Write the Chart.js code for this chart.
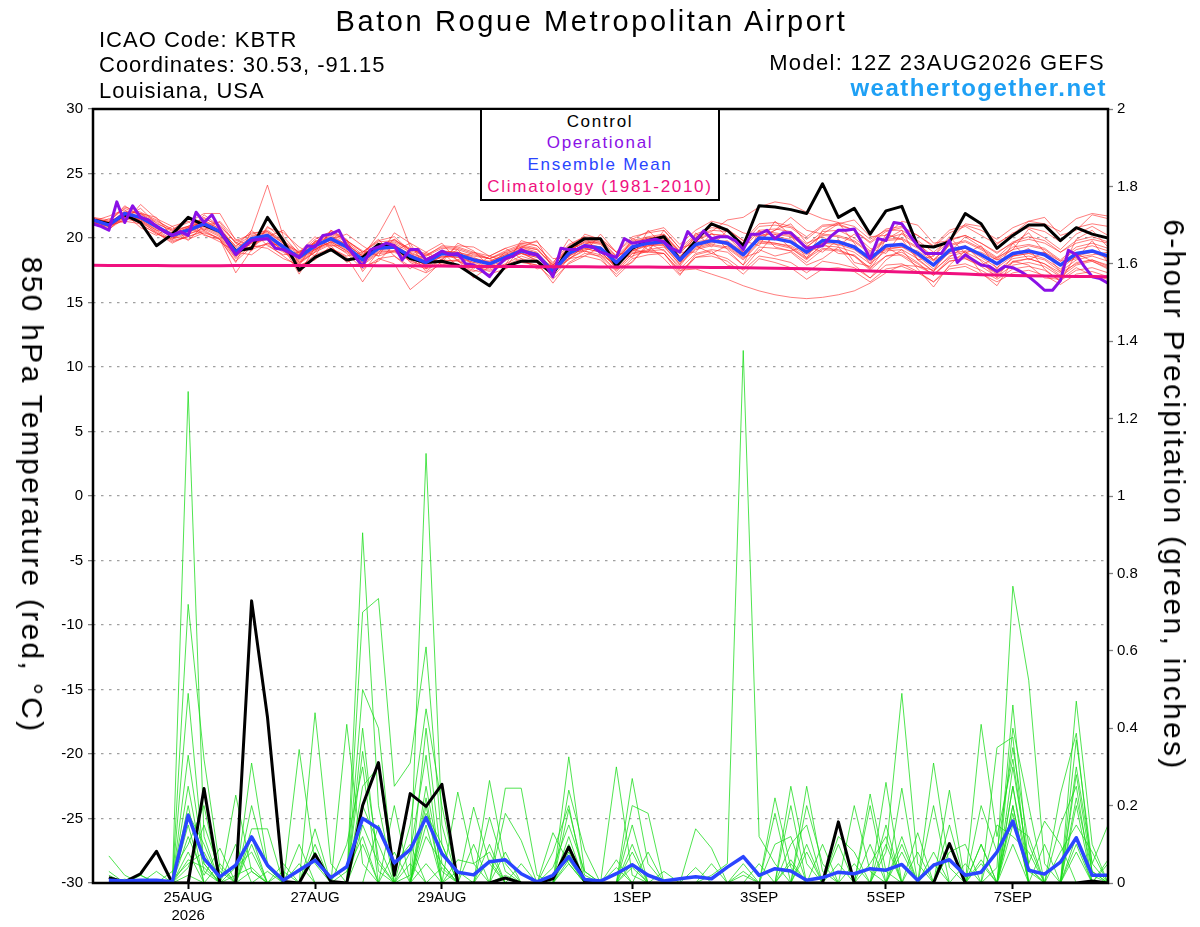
<!DOCTYPE html>
<html>
<head>
<meta charset="utf-8">
<title>KBTR GEFS meteogram</title>
<script src="https://cdn.jsdelivr.net/npm/chart.js@4.4.1/dist/chart.umd.min.js"></script>
<style>
  html, body { margin: 0; padding: 0; background: #fff; }
  #wrap { position: relative; width: 1200px; height: 927px; font-family: "Liberation Sans", Arial, sans-serif; color: #000; }
  #wrap canvas { position: absolute; left: 0; top: 0; }
  .txt { position: absolute; white-space: nowrap; }
  #title { left: 0; width: 1183px; top: 7px; text-align: center; font-size: 29px; line-height: 29px; letter-spacing: 2.6px; }
  .info { font-size: 22px; line-height: 22px; letter-spacing: 1px; }
  #site { right: 93px; top: 76px; font-size: 24px; line-height: 24px; font-weight: bold; letter-spacing: 1.5px; color: #1ea0f5; }
  #legendBox { position: absolute; left: 480px; top: 108px; width: 236px; height: 88px; border: 2px solid #000; background: #fff;
               text-align: center; font-size: 17px; line-height: 21.7px; letter-spacing: 1.7px; padding-top: 0.5px; }
  .ytitle { position: absolute; white-space: nowrap; font-size: 30px; line-height: 30px; letter-spacing: 2.3px;
            transform: translate(-50%, -50%) rotate(90deg); }
</style>
</head>
<body>
<div id="wrap">
  <canvas id="meteogram" width="1200" height="927"></canvas>
  <div class="txt" id="title">Baton Rogue Metropolitan Airport</div>
  <div class="txt info" style="left:99px; top:29px;">ICAO Code: KBTR</div>
  <div class="txt info" style="left:99px; top:54px;">Coordinates: 30.53, -91.15</div>
  <div class="txt info" style="left:99px; top:80px;">Louisiana, USA</div>
  <div class="txt info" style="right:95px; top:52px; letter-spacing:1.3px;">Model: 12Z 23AUG2026 GEFS</div>
  <div class="txt" id="site">weathertogether.net</div>
  <div id="legendBox">
    <div style="color:#000">Control</div>
    <div style="color:#8a10e6">Operational</div>
    <div style="color:#2a45ff">Ensemble Mean</div>
    <div style="color:#f0107f">Climatology (1981-2010)</div>
  </div>
  <div class="ytitle" style="left:32px; top:495px;">850 hPa Temperature (red, °C)</div>
  <div class="ytitle" style="left:1174px; top:495px;">6-hour Precipitation (green, inches)</div>
</div>

<script>
// forecast runs 12Z 23AUG2026 -> 12Z 08SEP2026, ensemble every 6 h, operational every 3 h
var dateTicks = [36, 84, 132, 204, 252, 300, 348];
var dateLabels = [['25AUG', '2026'], '27AUG', '29AUG', '1SEP', '3SEP', '5SEP', '7SEP'];
var tempTicks = [30, 25, 20, 15, 10, 5, 0, -5, -10, -15, -20, -25, -30];

// 850 hPa temperature (C)
var controlTemp = [21.4,21.1,21.8,21.2,19.4,20.3,21.6,21.0,20.5,19.0, 19.2,21.6,19.8,17.5,18.5,19.1,18.3,18.5,19.5,19.3,
  18.4,18.1,18.2,17.9,17.1,16.3,17.8,18.2,18.2,17.2, 19.2,19.95,19.95,17.8,19.2,19.8,20.1,18.3,19.8,21.1,
  20.6,19.4,22.5,22.4,22.2,21.9,24.2,21.6,22.3,20.3, 22.1,22.45,19.4,19.3,19.7,21.9,21.1,19.2,20.2,21.0, 21.0,19.8,20.8,20.3,20.0];
var meanTemp = [21.4,21.0,21.9,21.6,20.9,20.2,20.6,21.1,20.5,18.9, 19.95,20.2,19.3,18.5,19.4,19.95,19.3,18.3,19.2,19.3,
  18.6,18.1,18.8,18.7,18.3,18.0,18.5,19.0,18.7,17.4, 18.8,19.4,19.2,18.1,19.3,19.6,19.7,18.3,19.5,19.8,
  19.6,18.7,20.0,19.95,19.7,18.9,19.8,19.7,19.3,18.4, 19.4,19.5,18.8,17.9,19.05,19.3,18.7,18.0,18.8,19.0, 18.7,17.9,18.8,19.0,18.6];
var climTemp = [17.88,17.87,17.87,17.86,17.86,17.85,17.85,17.85,17.85,17.86, 17.86,17.86,17.87,17.87,17.87,17.87,17.86,17.86,17.85,17.85,
  17.84,17.83,17.82,17.81,17.8,17.8,17.79,17.79,17.78,17.78, 17.77,17.77,17.76,17.76,17.75,17.75,17.74,17.74,17.73,17.72,
  17.71,17.7,17.68,17.66,17.64,17.61,17.58,17.54,17.5,17.45, 17.4,17.36,17.32,17.28,17.24,17.2,17.16,17.13,17.1,17.08, 17.06,17.04,17.02,17.01,17.0];
// operational run, 3-hourly
var operTemp = [21.1,20.9,20.6,22.8,21.2,22.5,21.6,21.4,20.9,20.5, 20.2,20.5,20.2,22.0,21.2,21.8,20.7,19.6,18.7,19.3,
  19.8,19.9,19.95,19.2,19.1,18.8,18.5,19.4,19.3,20.2, 20.3,20.6,19.4,18.6,17.8,19.1,19.3,19.6,19.4,18.3,
  19.1,19.1,18.3,18.6,19.0,18.7,18.8,18.0,17.9,17.5, 17.0,17.8,18.4,18.6,19.1,18.8,18.7,18.0,17.0,19.2,
  19.1,19.1,19.4,19.3,18.9,18.7,18.5,19.95,19.6,19.7, 19.8,19.9,19.7,19.2,18.9,20.5,19.8,20.55,19.95,20.1,
  20.1,19.8,19.1,20.3,20.3,20.6,19.95,20.4,20.4,19.8, 19.2,19.3,19.4,20.1,20.6,20.6,20.7,19.6,18.4,19.95,
  19.8,21.2,21.1,20.2,19.4,18.8,18.8,18.8,19.8,18.1, 18.7,18.3,17.9,17.8,17.4,17.8,17.7,17.4,17.0,16.5,
  15.95,15.95,16.7,19.05,18.7,17.8,17.0,16.85,16.5];

// ensemble members (temperature)
var memT01 = [21.5,21.3,22.3,21.8,21.2,20.5,20.9,21.6,20.8,19.3,20.6,24.1,20.1,18.8,19.9,20.5,19.8,18.9,19.8,20.1,19.0,18.6,19.4,19.3,18.9,18.6,19.2,19.6,19.4,18.1,19.5,20.1,20.0,18.9,20.1,20.4,20.6,19.2,20.3,20.8,20.7,19.8,21.1,21.2,20.9,20.1,21.0,21.1,20.6,19.7,20.7,20.9,20.2,19.3,20.4,20.9,20.2,19.5,20.4,20.8,20.5,19.7,20.8,21.1,20.9];
var memT02 = [21.2,20.7,21.5,21.2,20.5,19.8,20.1,20.5,19.9,18.2,19.3,19.5,18.6,17.7,18.7,19.2,18.5,16.6,18.4,18.6,17.8,17.3,18.0,17.9,17.5,17.2,17.6,18.2,17.9,16.8,18.0,18.6,18.3,17.2,18.4,18.7,18.8,17.2,18.5,18.8,18.4,17.5,18.6,18.4,18.1,17.3,18.2,18.0,17.7,16.9,17.9,18.0,17.4,16.6,17.6,17.8,17.2,16.6,17.3,17.5,17.1,16.4,17.2,17.4,17.0];
var memT03 = [21.3,21.1,21.7,21.4,20.7,20.3,20.8,21.4,20.7,19.0,19.6,20.0,19.0,18.2,19.1,19.7,19.0,18.1,19.0,19.0,18.2,17.8,18.6,18.5,18.0,17.6,18.3,18.8,18.3,17.2,18.6,19.2,18.9,17.8,18.9,19.0,18.8,17.5,17.6,17.2,16.8,16.3,15.9,15.6,15.4,15.3,15.4,15.6,15.9,16.5,17.3,17.9,17.8,17.2,18.2,18.5,18.0,17.3,18.1,18.4,18.0,17.3,18.0,18.3,17.9];
var memT04 = [21.6,21.2,22.0,21.9,21.0,20.0,20.4,21.0,20.6,19.4,20.2,20.4,19.6,18.9,19.6,20.1,19.5,18.6,20.3,22.5,19.3,18.4,19.0,18.9,18.6,18.4,18.8,19.3,19.1,17.9,19.1,19.7,19.6,18.4,19.6,20.0,20.1,18.8,20.1,20.5,21.4,21.6,22.4,22.8,22.6,22.0,21.5,21.2,20.9,19.9,20.6,20.6,19.8,18.9,19.9,20.2,19.6,18.9,19.6,19.9,19.6,18.9,19.6,19.9,19.6];
var memT05 = [21.3,20.9,21.8,21.5,20.8,20.2,20.5,20.9,20.3,18.6,19.6,19.9,19.0,18.1,19.0,19.6,18.8,17.6,18.4,18.0,16.0,17.0,18.2,18.3,17.8,17.5,18.0,18.6,18.2,17.0,18.4,19.0,18.7,17.5,18.8,19.1,19.3,18.0,19.1,19.4,19.2,18.3,19.6,19.5,19.2,18.4,19.2,19.1,18.6,17.7,18.6,18.7,18.0,17.1,18.2,18.4,17.8,17.0,17.9,18.1,17.8,17.0,17.9,18.2,17.7];
var memT06 = [21.5,21.1,22.1,21.9,21.3,20.7,21.2,21.9,21.9,19.8,20.3,20.6,19.8,18.9,19.7,20.3,19.7,18.7,19.5,19.6,18.9,18.4,19.0,18.8,18.4,18.2,18.7,19.3,18.9,17.6,19.0,19.7,19.5,18.4,19.6,19.9,20.0,18.6,19.8,20.3,20.2,19.4,20.6,20.7,20.5,19.5,20.5,20.6,20.0,19.0,20.0,20.3,19.5,18.6,19.8,20.2,19.6,18.8,19.7,20.1,19.8,18.9,19.8,20.1,19.7];
var memT07 = [21.2,20.8,21.6,21.3,20.4,19.7,20.1,20.6,19.9,17.3,19.1,19.6,18.9,18.0,18.9,19.5,18.9,17.9,18.8,18.9,18.3,17.7,18.3,18.2,17.8,17.4,17.9,18.4,18.1,16.5,18.1,18.8,18.6,17.4,18.6,19.0,19.1,17.6,18.8,19.1,18.9,17.9,19.3,19.2,19.0,18.1,19.1,19.0,18.6,17.5,18.6,18.9,18.1,17.1,18.4,18.6,18.0,17.2,18.2,18.4,18.0,17.1,18.1,18.3,17.8];
var memT08 = [21.4,21.0,21.9,21.5,20.8,20.3,20.8,21.3,20.7,19.2,20.1,20.5,19.6,18.7,19.6,20.2,19.5,18.6,19.5,19.7,19.1,18.7,19.3,19.2,18.8,18.4,19.0,19.5,19.2,17.8,19.3,19.9,19.7,18.6,19.8,20.1,20.3,19.0,20.2,20.6,20.5,19.6,20.9,21.0,20.8,19.9,20.9,21.0,20.6,19.6,20.5,20.8,20.2,19.4,20.6,21.0,20.6,19.9,20.8,21.3,21.1,20.5,21.5,21.9,21.7];
var memT09 = [21.3,20.9,21.7,21.4,20.6,19.9,20.3,20.8,20.2,18.7,19.7,19.9,19.1,18.3,19.2,19.7,19.0,18.0,18.9,19.0,18.4,17.9,18.6,18.5,18.1,17.8,18.3,18.8,18.5,17.3,18.6,19.2,18.9,17.8,19.0,19.4,19.5,18.1,19.2,19.5,19.3,18.4,19.7,19.6,19.3,18.5,19.4,19.3,18.9,18.0,19.0,19.1,18.4,17.4,18.6,18.9,18.3,17.5,18.4,18.6,18.3,17.4,18.3,18.6,18.2];
var memT10 = [21.4,21.2,22.5,21.7,20.8,20.0,20.7,21.3,20.4,18.6,20.0,20.3,19.3,17.2,19.3,20.0,19.4,18.2,19.4,19.5,18.7,18.3,18.9,18.3,16.9,17.8,18.6,19.2,18.8,17.5,19.1,19.6,19.3,18.2,19.4,19.8,19.9,18.5,19.7,19.9,19.7,18.8,20.2,20.3,20.1,19.3,20.3,20.2,19.8,18.9,19.9,20.0,19.3,18.3,19.5,19.8,19.2,18.4,19.3,19.5,19.2,18.3,19.3,19.6,19.2];
var memT11 = [21.5,21.0,21.8,21.6,20.9,20.1,20.6,21.0,20.5,18.9,19.9,20.1,19.4,18.6,19.4,19.9,19.3,18.4,19.3,19.4,18.7,18.2,18.9,18.8,18.4,18.1,18.6,19.1,18.8,17.6,18.9,19.4,19.0,17.6,18.8,18.9,18.8,17.4,18.5,18.6,18.2,17.2,18.4,18.1,17.7,16.8,17.6,17.7,17.4,16.6,17.6,17.8,17.3,16.6,17.8,18.0,17.5,16.8,17.6,17.8,17.5,16.7,17.5,17.7,17.3];
var memT12 = [21.6,21.4,22.4,22.0,21.4,20.6,20.9,21.5,21.0,19.6,20.4,20.5,19.7,18.8,19.7,20.4,19.8,18.9,19.7,19.8,19.2,18.6,19.2,19.1,18.7,18.4,18.9,19.4,19.1,17.9,19.2,19.8,19.6,18.5,19.7,20.0,20.2,18.9,20.0,20.3,20.1,19.2,20.5,20.4,20.2,19.3,20.2,20.1,19.7,18.8,19.8,19.9,19.2,18.3,19.4,19.7,19.1,18.3,19.1,19.4,19.1,18.2,19.1,19.4,19.0];
var memT13 = [21.2,20.9,21.6,21.5,20.9,20.4,20.3,20.7,20.1,18.5,19.8,20.0,19.5,18.4,19.1,19.7,19.6,18.5,19.1,19.2,18.8,18.4,18.5,18.6,18.1,18.2,18.7,18.8,18.5,17.8,18.4,19.1,19.3,18.3,19.0,19.5,19.4,18.4,19.3,19.6,19.8,18.9,19.8,19.6,19.4,18.7,19.6,19.8,19.4,18.5,19.1,19.3,19.0,18.2,18.8,19.0,18.9,18.3,18.6,18.8,18.9,18.2,18.5,18.7,18.9];
var memT14 = [21.4,21.1,22.0,21.3,20.6,20.4,20.9,21.2,20.6,19.1,19.7,20.0,19.2,18.7,19.5,19.8,19.1,18.1,19.2,19.5,18.5,17.9,18.9,18.9,18.5,18.0,18.4,19.1,18.8,17.3,18.7,19.3,19.1,17.9,19.2,19.4,19.6,18.2,19.4,19.7,19.5,18.6,19.9,20.1,19.9,18.8,19.6,19.5,19.1,18.2,19.2,19.3,18.6,17.6,18.9,19.2,18.5,17.7,18.6,18.8,18.4,17.6,18.6,18.9,18.4];
var memT15 = [21.0,21.5,21.2,22.6,21.5,20.9,19.8,21.0,21.2,19.6,19.0,20.8,20.4,19.3,18.6,20.6,19.8,19.0,18.6,20.4,19.6,17.6,18.1,19.6,19.0,17.8,17.9,19.8,19.4,18.0,19.9,18.9,20.3,18.9,18.5,20.6,19.4,17.9,20.4,19.3,20.6,19.8,19.4,21.3,20.2,18.4,20.6,21.2,19.6,18.0,20.3,19.9,18.3,18.6,20.1,18.8,19.4,17.6,19.6,20.4,18.9,17.4,19.9,20.6,19.3];
var memT16 = [21.6,20.6,21.9,20.8,20.2,20.9,21.3,20.2,19.9,18.1,20.6,19.4,18.7,18.9,20.1,19.2,18.6,18.9,19.9,18.6,17.6,18.9,19.6,18.2,17.6,18.6,19.2,18.4,17.6,17.9,19.4,20.1,18.7,17.9,20.0,19.1,20.3,18.9,18.9,20.4,19.1,17.9,20.6,19.3,19.0,19.4,18.9,19.9,18.1,17.8,19.9,20.6,18.3,17.4,19.6,18.4,17.9,18.5,19.6,18.3,18.9,18.0,18.4,19.8,18.1];
var memT17 = [21.3,21.7,22.2,21.0,20.4,19.6,20.2,21.8,20.9,19.7,19.1,20.9,19.9,18.1,18.9,20.6,19.9,17.4,18.9,19.9,19.1,18.8,17.9,18.3,18.9,18.4,17.7,19.3,19.8,17.6,18.3,19.5,19.9,18.6,19.1,18.9,20.6,19.2,19.6,21.2,20.1,18.9,19.9,20.6,21.1,19.6,20.1,19.4,20.3,19.2,18.8,20.4,19.7,18.3,18.9,20.1,19.3,18.5,19.1,20.7,20.0,19.1,20.3,20.9,20.2];
var memT18 = [21.5,20.9,21.4,21.9,21.6,20.1,19.9,20.4,20.0,18.4,19.4,19.2,18.4,17.9,19.8,19.4,18.1,18.8,19.4,19.9,18.9,17.4,18.4,19.1,17.8,17.1,18.5,18.9,18.2,17.1,18.9,19.0,18.5,17.0,18.2,19.4,18.4,17.1,18.7,19.0,17.9,17.6,19.1,18.6,18.9,17.9,18.4,19.3,17.9,16.9,18.3,19.1,17.6,16.2,17.9,19.0,17.3,16.3,18.2,17.9,16.9,16.8,17.7,17.1,16.8];
var memT19 = [21.4,21.3,21.6,22.3,21.1,20.6,21.6,20.6,21.3,19.9,19.3,20.1,20.6,19.0,19.1,19.9,20.3,19.4,18.6,19.0,19.6,18.9,18.3,19.4,19.3,18.6,18.2,19.6,19.7,18.4,18.5,20.3,19.9,18.9,19.9,20.5,20.8,19.5,20.6,21.3,21.0,20.4,20.1,20.6,21.6,20.6,20.3,21.1,21.4,20.1,20.2,21.3,21.0,19.6,19.8,21.1,20.9,19.6,20.3,21.3,21.6,20.2,20.6,21.8,21.5];
var memT20 = [21.2,21.0,21.3,21.1,20.3,19.9,20.8,20.3,19.7,18.9,18.7,19.6,19.4,17.9,18.3,19.4,19.4,17.8,18.2,19.5,18.1,17.6,18.9,17.8,17.4,17.9,18.9,18.1,17.9,17.3,18.4,18.6,19.3,17.6,18.1,19.6,19.0,17.8,19.4,18.8,19.4,18.5,18.9,20.3,19.2,18.3,19.6,18.8,18.7,17.6,19.3,18.6,17.8,17.5,18.5,19.4,18.2,16.9,18.6,19.2,17.6,16.6,18.8,18.2,17.6];

// 6-hour precipitation (inches), first value is the analysis time (none)
var controlPrecip = [null,0.014,0.003,0.024,0.082,0,0,0.244,0,0, 0.729,0.429,0.004,0,0.074,0.004,0,0.2,0.311,0.02,
  0.231,0.198,0.255,0,0,0,0.013,0,0,0.011, 0.093,0.005,0,0,0,0,0,0,0,0,
  0,0,0,0,0,0,0,0.158,0,0, 0,0,0,0,0.102,0,0,0,0,0, 0,0,0,0.005,0];
var meanPrecip = [null,0.007,0.005,0.007,0.007,0.003,0.175,0.063,0.016,0.046, 0.119,0.046,0.007,0.033,0.059,0.014,0.042,0.167,0.141,0.052,
  0.086,0.169,0.076,0.028,0.021,0.055,0.060,0.024,0.003,0.020, 0.068,0.009,0.005,0.024,0.047,0.020,0.005,0.011,0.016,0.011,
  0.041,0.068,0.020,0.037,0.031,0.007,0.014,0.028,0.024,0.037, 0.033,0.048,0.007,0.046,0.060,0.020,0.028,0.080,0.160,0.033, 0.023,0.054,0.117,0.020,0.020];

var memP01 = [null,0.02,0,0,0,0,1.27,0.12,0,0, 0.03,0,0,0,0,0,0,0.34,0.06,0, 0,0.40,0.05,0,0,0,0,0,0,0, 0.19,0.02,0,0,0,0,0,0,0,0, 0,0,0,0,0,0.25,0.03,0,0,0, 0,0,0,0.31,0.04,0,0,0,0.25,0.03, 0,0,0,0,0];
var memP02 = [null,0,0,0.02,0,0,0.72,0.32,0.04,0, 0.2,0.04,0,0,0,0,0,0,0,0, 0,0.05,0,0,0,0.17,0.03,0,0,0, 0,0,0,0,0.05,0,0,0,0,0, 0,0,0,0.22,0.04,0,0,0,0,0, 0,0,0,0,0,0,0.41,0.12,0.32,0.04, 0,0,0,0,0];
var memP03 = [null,0,0,0,0,0,0.49,0.05,0,0.227, 0.03,0,0,0,0,0,0,0.905,0.2,0, 0,0,0.04,0,0,0,0,0,0,0, 0.326,0.03,0,0,0,0,0,0,0,0, 0,0,0,0,0.25,0.05,0,0,0,0, 0.08,0.49,0.05,0,0,0,0,0,0.1,0, 0,0,0.22,0.03,0];
var memP04 = [null,0,0,0,0,0,0.33,0.05,0,0, 0,0,0,0,0.44,0.05,0,0,0,0, 0.02,1.11,0.15,0,0,0.265,0.05,0,0,0, 0,0,0,0.3,0.02,0,0,0,0,0, 0,0.03,0,0,0,0,0,0,0.2,0.03, 0,0,0,0,0,0,0,0.04,0.767,0.524, 0.05,0,0.1,0,0];
var memP05 = [null,0.07,0.02,0,0,0,0.25,0.03,0,0, 0.31,0.05,0,0,0,0,0,0.7,0.735,0.25, 0.31,0.61,0.1,0,0,0,0.245,0.245,0.02,0, 0,0,0,0,0.27,0.05,0,0,0,0, 0,0,0,0,0,0,0,0,0,0.23, 0.03,0,0,0,0.24,0,0,0,0.46,0.04, 0,0,0.47,0.1,0];
var memP06 = [null,0,0,0,0.03,0,0.18,0.1,0,0, 0,0,0,0.345,0.05,0,0,0.4,0.03,0, 0,0.2,0,0,0.196,0.05,0,0,0,0, 0.24,0.085,0,0,0,0,0,0,0,0.02, 0.05,1.376,0.12,0.05,0,0,0,0,0,0, 0,0.245,0,0,0,0,0,0.35,0.377,0, 0,0.23,0.387,0.02,0];
var memP07 = [null,0,0,0,0,0,0.12,0.02,0.09,0, 0,0,0,0,0,0,0.41,0.05,0,0, 0.08,0.33,0,0.235,0.05,0,0,0,0,0.13, 0.05,0,0,0,0.2,0.18,0,0,0,0, 0,0,0,0,0,0.2,0.05,0,0,0, 0.26,0,0,0,0,0,0.1,0,0.2,0, 0,0,0.37,0.05,0.15];
var memP08 = [null,0,0,0.02,0,0,0.08,0,0,0, 0.14,0.14,0,0,0.14,0,0,0.1,0,0.2, 0,0.15,0,0,0,0,0.18,0.11,0,0, 0,0,0,0,0,0,0,0,0.14,0.09, 0,0,0,0,0.2,0,0,0,0,0.2, 0,0,0,0.08,0,0,0,0,0.3,0.05, 0.16,0.1,0,0,0];
var memP09 = [null,0,0,0,0,0.01,0.05,0.08,0,0.04, 0.08,0,0,0.05,0,0,0,0.2,0.1,0, 0,0.12,0.05,0,0,0,0,0,0,0, 0.1,0,0,0.04,0,0,0,0,0,0, 0,0,0,0.18,0,0,0,0.12,0.08,0, 0,0,0.13,0,0,0,0.05,0,0.15,0.12, 0,0,0.2,0,0.06];
var memP10 = [null,0,0,0,0,0,0.04,0.15,0.03,0, 0,0,0.03,0,0.08,0,0,0,0.15,0.05, 0.1,0,0,0.06,0.05,0.08,0,0,0,0, 0.06,0,0,0,0.04,0,0,0,0,0, 0,0,0.05,0,0,0.08,0,0.05,0,0, 0,0.1,0,0,0.08,0.1,0,0,0.25,0, 0,0.08,0.15,0.08,0];
var memP11 = [null,0,0.01,0,0,0,0.02,0,0,0, 0,0.03,0,0,0,0,0,0.15,0.05,0, 0,0.25,0.03,0,0,0,0,0,0,0.04, 0.15,0.03,0,0,0,0,0.03,0,0,0, 0,0,0,0,0.06,0,0,0,0,0.05, 0.12,0,0,0.05,0,0,0,0.15,0.12,0.08, 0,0,0.08,0,0];
var memP12 = [null,0,0,0,0,0,0.15,0,0,0.02, 0.04,0,0,0,0,0,0.03,0.12,0,0, 0.05,0,0,0.03,0,0,0.02,0,0,0, 0.08,0,0,0,0.08,0,0,0,0.04,0, 0,0.02,0,0,0,0.1,0,0,0.05,0, 0,0.08,0,0,0,0,0.06,0,0.18,0, 0.1,0,0.28,0.03,0];
var memP13 = [null,0,0,0,0,0.03,0.1,0.2,0,0.1, 0,0,0,0,0.1,0,0,0.25,0.3,0, 0,0.18,0.1,0,0,0.06,0,0,0,0, 0.12,0,0,0,0.1,0,0,0,0,0, 0,0,0,0.1,0.12,0,0,0.1,0,0, 0.15,0,0,0.2,0,0.05,0,0,0.2,0, 0,0.15,0.25,0,0.05];
var memP14 = [null,0,0,0,0,0,0.06,0.04,0,0, 0.1,0,0.05,0,0,0,0.1,0.3,0,0.08, 0,0.22,0,0,0.1,0,0.08,0,0,0, 0.05,0,0,0.06,0,0.08,0,0,0,0.05, 0,0,0,0,0.05,0,0.1,0,0,0.1, 0,0.12,0,0,0,0,0.2,0.08,0.35,0.1, 0,0,0.12,0,0];
var memP15 = [null,0.03,0,0,0,0,0.2,0,0.05,0, 0.12,0,0,0.1,0,0,0,0.5,0.4,0, 0.15,0.45,0.2,0,0,0.1,0,0.05,0,0.08, 0.2,0,0,0,0.15,0,0,0,0,0, 0,0.05,0,0,0.1,0.15,0,0,0,0, 0.1,0,0.08,0,0.15,0,0.1,0,0.4,0.2, 0,0,0.3,0.05,0];

var tempMembers = [memT01, memT02, memT03, memT04, memT05, memT06, memT07, memT08, memT09, memT10,
  memT11, memT12, memT13, memT14, memT15, memT16, memT17, memT18, memT19, memT20];
var precipMembers = [memP01, memP02, memP03, memP04, memP05, memP06, memP07, memP08, memP09, memP10,
  memP11, memP12, memP13, memP14, memP15];

function toPoints(values, stepHours) {
  return values.map(function(v, i) { return { x: i * stepHours, y: v }; });
}

var datasets = [];
tempMembers.forEach(function(m) {
  datasets.push({ data: toPoints(m, 6), yAxisID: 'y', borderColor: 'rgba(255,35,35,0.7)', borderWidth: 0.85, order: 6 });
});
precipMembers.forEach(function(m) {
  datasets.push({ data: toPoints(m, 6), yAxisID: 'y2', borderColor: 'rgba(25,220,25,0.9)', borderWidth: 0.85, order: 5 });
});
datasets.push({ data: toPoints(controlTemp, 6), yAxisID: 'y', borderColor: '#000', borderWidth: 3, order: 3 });
datasets.push({ data: toPoints(controlPrecip, 6), yAxisID: 'y2', borderColor: '#000', borderWidth: 3, order: 3 });
datasets.push({ data: toPoints(meanTemp, 6), yAxisID: 'y', borderColor: '#2a45ff', borderWidth: 3.5, order: 2 });
datasets.push({ data: toPoints(meanPrecip, 6), yAxisID: 'y2', borderColor: '#2a45ff', borderWidth: 3.5, order: 2 });
datasets.push({ data: toPoints(operTemp, 3), yAxisID: 'y', borderColor: '#8a10e6', borderWidth: 3, order: 1 });
datasets.push({ data: toPoints(climTemp, 6), yAxisID: 'y', borderColor: '#f0107f', borderWidth: 3, order: 0 });

// black frame round the plot area, drawn over the lines
var framePlugin = {
  id: 'frame',
  afterDatasetsDraw: function(chart) {
    var ctx = chart.ctx, a = chart.chartArea;
    ctx.save();
    ctx.strokeStyle = '#000';
    ctx.lineWidth = 2.5;
    ctx.strokeRect(a.left, a.top, a.right - a.left, a.bottom - a.top);
    ctx.restore();
  }
};

var tickFont = { family: 'Liberation Sans', size: 15, lineHeight: 1.2 };

new Chart(document.getElementById('meteogram'), {
  type: 'line',
  data: { datasets: datasets },
  options: {
    responsive: false,
    animation: false,
    devicePixelRatio: 1,
    layout: { padding: { top: 109, left: 0, right: 0, bottom: 0 } },
    elements: { point: { radius: 0 }, line: { tension: 0, borderJoinStyle: 'round' } },
    plugins: { legend: { display: false }, tooltip: { enabled: false } },
    scales: {
      x: {
        type: 'linear', min: 0, max: 384,
        afterBuildTicks: function(axis) {
          axis.ticks = dateTicks.map(function(v) { return { value: v }; });
        },
        afterFit: function(axis) { axis.height = 44; },
        ticks: {
          autoSkip: false, maxRotation: 0, padding: 0, color: '#000', font: tickFont,
          callback: function(value) { return dateLabels[dateTicks.indexOf(value)]; }
        },
        grid: { drawOnChartArea: false, drawTicks: true, tickLength: 6, tickColor: '#000', tickWidth: 2 },
        border: { display: false }
      },
      y: {
        position: 'left', min: -30, max: 30,
        afterBuildTicks: function(axis) {
          axis.ticks = tempTicks.map(function(v) { return { value: v }; });
        },
        afterFit: function(axis) { axis.width = 93; },
        ticks: { padding: 5, color: '#000', font: tickFont },
        grid: {
          color: function(c) { return (c.tick && Math.abs(c.tick.value) === 30) ? 'rgba(0,0,0,0)' : '#a0a0a0'; },
          lineWidth: 1.3, tickLength: 5, tickColor: '#808080', tickWidth: 1.3
        },
        border: { display: false, dash: [2.5, 5.5] }
      },
      y2: {
        position: 'right', min: 0, max: 2,
        afterFit: function(axis) { axis.width = 92; },
        ticks: {
          stepSize: 0.2, padding: 4, color: '#000', font: tickFont,
          callback: function(v) { return String(Math.round(v * 10) / 10); }
        },
        grid: { drawOnChartArea: false, tickLength: 5, tickColor: '#808080', tickWidth: 1.3 },
        border: { display: false }
      }
    }
  },
  plugins: [framePlugin]
});
</script>
</body>
</html>
